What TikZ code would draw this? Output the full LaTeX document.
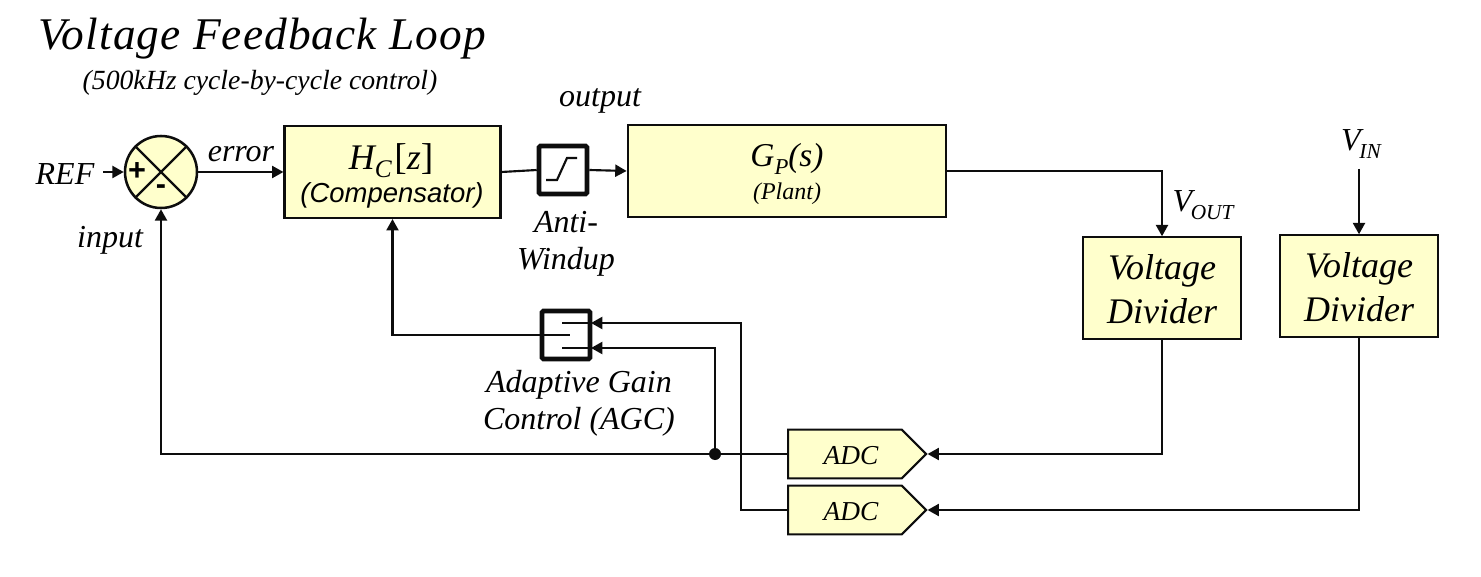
\documentclass[tikz,border=0pt]{standalone}
\usepackage{fontspec}
\setmainfont{Liberation Serif}
\setsansfont{Liberation Sans}
\usetikzlibrary{arrows.meta,shapes.symbols,calc}
\definecolor{boxfill}{HTML}{FFFFCC}
\definecolor{ink}{HTML}{0D0D0D}
\newcommand{\fs}[1]{\fontsize{#1}{#1}\selectfont}
\newcommand{\lowsub}[2]{\raisebox{-5.8pt}{\fs{#1}#2}}
\tikzset{
 wire/.style={draw=ink,line width=1.6pt,line join=miter},
 arrowwire/.style={wire,-{Triangle[length=8.5pt,width=9pt]}},
 block/.style={draw=ink,line width=1.6pt,fill=boxfill,inner sep=0pt,align=center},
 limiter/.style={draw=ink,line width=3.4pt,fill=white,inner sep=0pt,rounded corners=1pt,minimum width=36pt,minimum height=36pt},
 adcbox/.style={draw=ink,line width=1.6pt,fill=boxfill,inner sep=0pt,shape=signal,signal to=east,signal pointer angle=90,minimum width=103.5pt,minimum height=36.5pt,anchor=west,font=\itshape\fs{20.5}},
 lbl/.style={inner sep=0pt,font=\itshape\fs{24},align=center},
 plainline/.style={draw=ink,line width=1.6pt},
}
\begin{document}
\begin{tikzpicture}[x=0.75pt,y=-0.75pt]
\useasboundingbox (0,0) rectangle (1481,577);
\node[lbl,font=\itshape\fs{34}\addfontfeatures{LetterSpace=2.4}] (title) at (262,39) {Voltage Feedback Loop};
\node[lbl,font=\itshape\fs{20.8}] (sub) at (260,83) {(500kHz cycle-by-cycle control)};

\node[block,circle,minimum size=54pt,line width=1.9pt] (sum) at (161,172) {};
\draw[plainline] (sum.45) -- (sum.225) (sum.135) -- (sum.315);
\node[inner sep=0pt,font=\sffamily\bfseries\fs{23}] (plus) at (137,172) {+};
\node[inner sep=0pt,font=\sffamily\bfseries\fs{23}] (minus) at (161,190) {-};

\node[block,minimum width=162pt,minimum height=69pt] (hc) at (392.5,172) {};
\node[lbl,font=\itshape\fs{27}] (hctext) at (391,160.5) {H\lowsub{19}{C}\kern2pt{\upshape\fs{28}[}z{\upshape\fs{28}]}};
\node[lbl,font=\sffamily\itshape\fs{20.6}] (comp) at (392,195) {(Compensator)};

\node[limiter] (anti) at (563,170) {};
\coordinate (s1) at (546,180); \coordinate (s2) at (557,180);
\coordinate (s3) at (567,158); \coordinate (s4) at (577,158);
\draw[plainline] (s1) -- (s2) -- (s3) -- (s4);

\node[block,minimum width=239pt,minimum height=68.5pt] (plant) at (787,171) {};
\node[lbl,font=\itshape\fs{25}] (gp) at (787,159) {G\lowsub{17}{P}(s)};
\node[lbl,font=\itshape\fs{18}] (planttext) at (787,194) {(Plant)};

\node[block,minimum width=118pt,minimum height=76pt,font=\itshape\fs{27}] (vd1) at (1162,288) {\rule{0pt}{20.5pt}Voltage\\[6pt]Divider};
\node[block,minimum width=118pt,minimum height=76pt,font=\itshape\fs{27}] (vd2) at (1359,286) {\rule{0pt}{20.5pt}Voltage\\[6pt]Divider};

\node[limiter] (agc) at (566,335) {};
\coordinate (agcA) at (591,323);
\coordinate (agcB) at (591,348);
\coordinate (a1) at (562,323); \coordinate (a2) at (570,335); \coordinate (a3) at (562,348);
\draw[plainline] (a1) -- (agcA) (agc.west) -- (a2) (a3) -- (agcB);

\node[adcbox] (adc1) at (787,454) {\kern9pt\rule{0pt}{16.5pt}ADC};
\node[adcbox] (adc2) at (787,510) {\kern9pt\rule{0pt}{16.5pt}ADC};
\node[circle,fill=ink,inner sep=0pt,minimum size=9pt] (jn) at (715,454) {};

\node[lbl] (ref) at (65,174) {REF};
\coordinate (refstart) at (103,172);
\node[lbl] (err) at (241,154) {error};
\node[lbl] (inp) at (110,240) {input};
\node[lbl] (out) at (600,101) {output};
\node[lbl] (aw) at (566,244) {Anti-\\[4pt]Windup};
\node[lbl] (vout) at (1203,205) {V\kern-1pt\lowsub{16}{OUT}};
\node[lbl] (vin) at (1361,144) {V\kern-1pt\lowsub{16}{IN}};
\coordinate (vinend) at (1359,169);
\node[lbl] (agctext) at (579,403) {Adaptive Gain\\[4pt]Control (AGC)};
\coordinate (c1) at (741,510);
\coordinate (c2) at (741,323);
\coordinate (c3) at (715,348);

\draw[arrowwire] (refstart) -- (sum.west);
\draw[arrowwire] (sum.east) -- (hc.west);
\draw[wire] (hc.east) -- (anti.west);
\draw[arrowwire] (anti.east) -- (plant.west);
\draw[arrowwire] (plant.east) -| (vd1.north);
\draw[arrowwire] (vinend) -- (vd2.north);
\draw[arrowwire] (vd1.south) |- (adc1.east);
\draw[arrowwire] (vd2.south) |- (adc2.east);
\draw[arrowwire] (adc1.west) -- (jn.center) -| (sum.south);
\draw[arrowwire] (jn.center) -- (c3) -- (agcB);
\draw[arrowwire] (adc2.west) -- (c1) -- (c2) -- (agcA);
\draw[arrowwire] (agc.west) -| (hc.south);
\end{tikzpicture}
\end{document}
